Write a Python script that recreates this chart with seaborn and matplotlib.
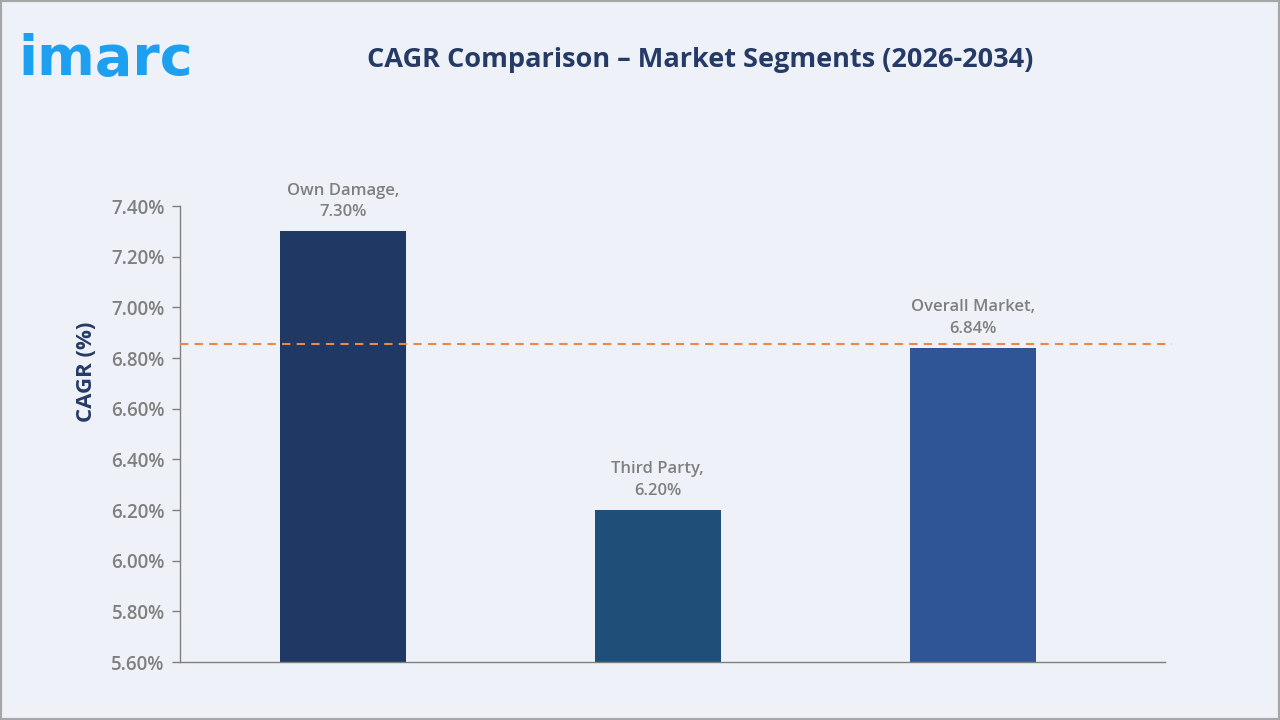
import numpy as np
import pandas as pd
import matplotlib
matplotlib.use('Agg')
import matplotlib.pyplot as plt
import seaborn as sns

# datos del grafico
segmentos = ['Own Damage', 'Third Party', 'Overall Market']
cagr = [7.30, 6.20, 6.84]
colores = ['#1f3864', '#1f4e79', '#2f5597']
promedio = 6.855
y_ticks = [5.6, 5.8, 6.0, 6.2, 6.4, 6.6, 6.8, 7.0, 7.2, 7.4]

data = pd.DataFrame({'segmento': segmentos, 'cagr': cagr})

sns.set_style('white')
plt.rcParams['font.family'] = ['Open Sans', 'DejaVu Sans']

fondo = '#eef2f8'
gris = '#7f7f7f'
navy = '#263a66'

fig = plt.figure(figsize=(12.8, 7.2), dpi=100, facecolor=fondo)
ax = fig.add_axes([180/1280, 1 - 662/720, 985/1280, 456/720])
ax.set_facecolor(fondo)

sns.barplot(data=data, x='segmento', y='cagr', hue='segmento', palette=colores,
            width=0.4, legend=False, ax=ax, saturation=1, linewidth=0)

ax.set_ylim(5.6, 7.4)
ax.set_xlim(-0.517, 2.61)
ax.set_yticks(y_ticks)
ax.set_yticklabels([f'{v:.2f}%' for v in y_ticks], color=gris, fontsize=13.5, fontweight='semibold')
ax.set_xticks([])
ax.set_xlabel('')
ax.set_ylabel('CAGR (%)', color=navy, fontsize=16, fontweight='bold')
ax.yaxis.set_label_coords(-0.084, 0.636)

for s in ['top', 'right']:
    ax.spines[s].set_visible(False)
for s in ['left', 'bottom']:
    ax.spines[s].set_color(gris)
    ax.spines[s].set_linewidth(1)
ax.tick_params(axis='y', direction='out', length=6, color=gris, width=1, pad=5, left=True)

ax.axhline(promedio, xmax=1.007, color='#e8894a', linestyle=(0, (4, 3)), linewidth=1.5,
           zorder=3, clip_on=False)

for i, (seg, val) in enumerate(zip(segmentos, cagr)):
    ax.annotate(f'{seg},\n{val:.2f}%', xy=(i, val), xytext=(0, 8), textcoords='offset points',
                ha='center', va='bottom', color=gris, fontsize=12, fontweight='semibold',
                linespacing=1.45)

fig.text(700/1280, 1 - 60/720, 'CAGR Comparison – Market Segments (2026-2034)',
         ha='center', va='center', color=navy, fontsize=19.5, fontweight='bold')
fig.text(18/1280, 1 - 60/720, 'imarc', ha='left', va='center', color='#1ea0f0',
         fontsize=40, fontweight='bold', family=['DejaVu Sans'])

# borde gris
borde = plt.Rectangle((0, 0), 1, 1, transform=fig.transFigure, fill=False,
                      edgecolor='#a6a6a6', linewidth=3)
fig.patches.append(borde)

fig.savefig('out.png', dpi=100, facecolor=fondo)
